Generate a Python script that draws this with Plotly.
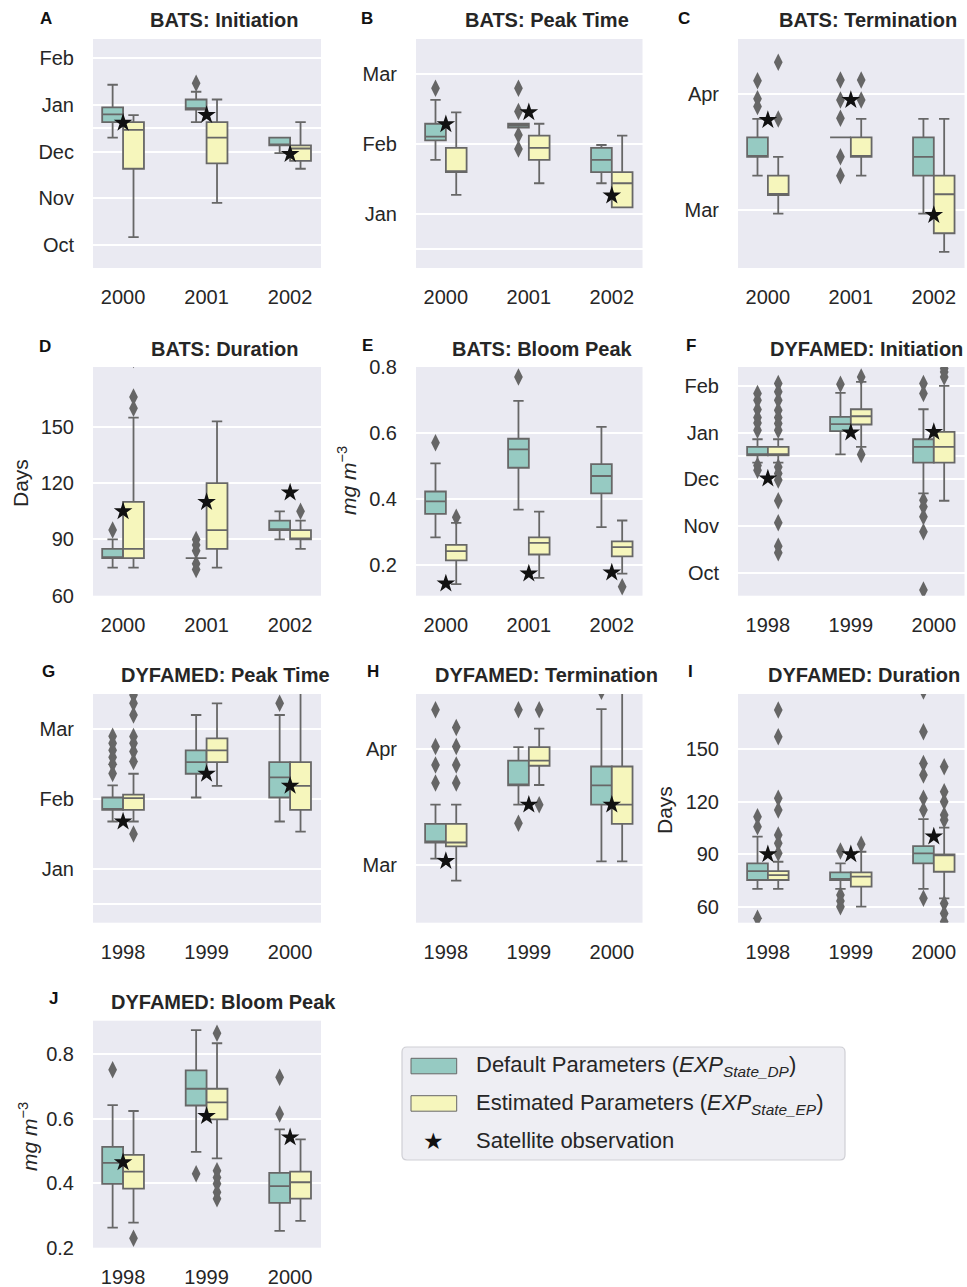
import plotly.graph_objects as go

W, H = 967, 1287

YEARS_BATS = ['2000', '2001', '2002']
YEARS_DYF = ['1998', '1999', '2000']

# Box statistics per year: [lower whisker, q1, median, q3, upper whisker]
# Date panels: days relative to 1 Jan (30-day months; Dec=-30, Feb=30, Mar=60, Apr=90)
A_DP = [[-21, -11, -6, -1.5, 13], [-11, -3, -2, 3.5, 8.5], [-31, -26, -26, -21, -21]]
A_EP = [[-85, -41, -16, -11, -6.5], [-63, -37.5, -21, -11, 3.5], [-41, -36, -28, -26, -11]]
A_DP_OUT = [[], [14], []]
A_EP_OUT = [[], [], []]
A_SAT = [-11.5, -6.5, -31.5]

B_DP = [[23.3, 31.7, 33.3, 38.8, 49.0], [37.1, 37.1, 38.0, 38.8, 38.8], [13.3, 18.1, 23.3, 28.5, 29.7]]
B_EP = [[8.3, 18.1, 18.1, 28.5, 43.7], [13.3, 23.3, 28.5, 33.7, 38.8], [3.0, 3.0, 13.3, 18.1, 33.7]]
B_DP_OUT = [[54], [54, 44, 34, 28], []]
B_EP_OUT = [[], [], []]
B_SAT = [38.6, 43.7, 8.0]

C_DP = [[68.9, 73.8, 73.8, 78.8, 83.6], [78.8, 78.8, 78.8, 78.8, 78.8], [59.1, 68.9, 73.8, 78.8, 83.6]]
C_EP = [[59.1, 63.9, 63.9, 68.9, 73.8], [68.9, 73.8, 73.8, 78.8, 83.6], [49.2, 54.0, 64.1, 68.9, 83.6]]
C_DP_OUT = [[93.5, 88.8, 86.8], [93.7, 88.5, 83.8, 73.8, 68.9], []]
C_EP_OUT = [[98.3, 83.6], [93.7, 88.5], []]
C_SAT = [83.3, 88.5, 58.7]

D_DP = [[75, 80, 80, 85, 90], [80, 80, 80, 80, 80], [90, 95, 95, 100, 105]]
D_EP = [[75, 80, 85, 110, 155], [75, 85, 95, 120, 153], [85, 90, 90, 95, 100]]
D_DP_OUT = [[95], [90, 87, 84, 77, 74], []]
D_EP_OUT = [[186, 166, 160], [], [105]]
D_SAT = [105, 110, 115]

E_DP = [[0.284, 0.355, 0.393, 0.423, 0.508], [0.368, 0.495, 0.551, 0.583, 0.698], [0.315, 0.417, 0.470, 0.506, 0.619]]
E_EP = [[0.142, 0.214, 0.242, 0.261, 0.328], [0.161, 0.232, 0.267, 0.284, 0.362], [0.174, 0.226, 0.254, 0.272, 0.335]]
E_DP_OUT = [[0.571], [0.770], []]
E_EP_OUT = [[0.345], [], [0.134]]
E_SAT = [0.144, 0.174, 0.177]

F_DP = [[-19.1, -14.4, -14.4, -9.0, -4.1], [-13.9, 1.1, 5.6, 10.3, 25.7], [-39.0, -19.1, -9.0, -4.1, 15.2]]
F_EP = [[-19.1, -14.4, -14.4, -9.0, -4.1], [-9.0, 5.4, 10.7, 15.2, 32.8], [-43.7, -19.1, -9.0, 0.6, 30.2]]
F_DP_OUT = [[25.3, 21.0, 15.0, 9.9, 6.4, 1.7, -21, -24.0], [31.3], [31.7, 25.3, -43.3, -47.6, -54.0, -63.6, -101.1]]
F_EP_OUT = [[31.7, 26.4, 21.0, 14.6, 9.9, 6.0, 1.7, -21.9, -26.1, -30.4, -43.7, -57.9, -72.9, -77.1], [36.0, -13.9], [41.4, 39.2, 36.0]]
F_SAT = [-29.4, 0.2, 0.6]

G_DP = [[20.4, 25.4, 25.4, 30.7, 35.9], [30.7, 40.9, 45.9, 50.9, 66.1], [20.4, 30.7, 39.3, 45.9, 66.1]]
G_EP = [[20.4, 25.4, 30.4, 31.9, 40.9], [35.7, 45.9, 50.9, 56.1, 71.1], [16.1, 25.4, 35.7, 45.9, 80]]
G_DP_OUT = [[57, 54, 51, 48, 45, 41], [], [71.1]]
G_EP_OUT = [[74.7, 71.1, 66.1, 56.9, 54.0, 50.4, 46.1, 15.0], [], []]
G_SAT = [20.4, 40.9, 35.7]

H_DP = [[61.6, 65.8, 65.8, 70.6, 75.6], [75.6, 80.6, 80.6, 87.0, 90.5], [60.9, 75.6, 80.6, 85.5, 100.4]]
H_EP = [[55.9, 64.8, 65.8, 70.6, 75.6], [80.7, 85.7, 87.0, 90.5, 95.3], [60.9, 70.6, 75.6, 85.5, 110]]
H_DP_OUT = [[100.2, 90.7, 85.9, 81.2], [100.2, 70.8], [105]]
H_EP_OUT = [[95.6, 90.7, 85.9, 81.2], [100.2, 75.6], []]
H_SAT = [61.0, 75.6, 75.6]

I_DP = [[70.3, 75.4, 80.5, 84.9, 100.1], [70.3, 75.4, 75.4, 79.8, 84.9], [70.3, 84.9, 90.6, 94.7, 110.1]]
I_EP = [[70.3, 75.4, 78.2, 80.5, 85.8], [60.2, 71.6, 77.3, 79.8, 91.5], [64.9, 80.1, 90, 90, 105.2]]
I_DP_OUT = [[111.4, 105.7, 53.6], [91.9, 66.9, 63.5, 60.2], [183, 159.8, 141.8, 135.2, 121.9, 115.2, 65]]
I_EP_OUT = [[172.2, 157, 121.9, 115.2, 101, 96.3, 90.6], [95.7], [139.9, 125.7, 120, 112.4, 109.5, 62.1, 56.4, 51.7]]
I_SAT = [90, 90, 100.1]

J_DP = [[0.262, 0.398, 0.463, 0.513, 0.642], [0.497, 0.641, 0.693, 0.750, 0.875], [0.252, 0.339, 0.391, 0.432, 0.567]]
J_EP = [[0.278, 0.383, 0.436, 0.488, 0.624], [0.477, 0.598, 0.651, 0.693, 0.834], [0.283, 0.352, 0.403, 0.436, 0.536]]
J_DP_OUT = [[0.752], [0.429], [0.729, 0.615]]
J_EP_OUT = [[0.229], [0.865, 0.439, 0.418, 0.398, 0.372, 0.352], []]
J_SAT = [0.465, 0.608, 0.542]

TITLES = ['BATS: Initiation', 'BATS: Peak Time', 'BATS: Termination', 'BATS: Duration', 'BATS: Bloom Peak',
          'DYFAMED: Initiation', 'DYFAMED: Peak Time', 'DYFAMED: Termination', 'DYFAMED: Duration',
          'DYFAMED: Bloom Peak']
LETTERS = ['A', 'B', 'C', 'D', 'E', 'F', 'G', 'H', 'I', 'J']

# (labelled tick values, labels, extra unlabelled grid values)
INIT_TICKS = ([-90, -60, -30, 0, 30], ['Oct', 'Nov', 'Dec', 'Jan', 'Feb'], [-15])
PEAK_TICKS = ([0, 30, 60], ['Jan', 'Feb', 'Mar'], [-15])
TERM_TICKS = ([60, 90], ['Mar', 'Apr'], [])
DUR_TICKS = ([60, 90, 120, 150], ['60', '90', '120', '150'], [])
CHL_TICKS = ([0.2, 0.4, 0.6, 0.8], ['0.2', '0.4', '0.6', '0.8'], [])

LEGEND_LABELS = ['Default Parameters (<i>EXP<sub>State_DP</sub></i>)',
                 'Estimated Parameters (<i>EXP<sub>State_EP</sub></i>)',
                 'Satellite observation']

# ---- styling ----
FONT = 'Liberation Sans, Arial, sans-serif'
TXT = '#262626'
DP_COLOR = '#96cac2'
EP_COLOR = '#f6f6bc'
EDGE = '#676767'
BG = '#eaeaf2'

cols_x = [(93, 321), (416, 642.5), (738, 964.5)]
rows_y = [(39, 268), (367, 595.7), (694, 922.7), (1020.7, 1247.7)]

panels = [
    (A_DP, A_EP, A_DP_OUT, A_EP_OUT, A_SAT, YEARS_BATS, INIT_TICKS, [-104.8, 42.4]),
    (B_DP, B_EP, B_DP_OUT, B_EP_OUT, B_SAT, YEARS_BATS, PEAK_TICKS, [-23.0, 75.1]),
    (C_DP, C_EP, C_DP_OUT, C_EP_OUT, C_SAT, YEARS_BATS, TERM_TICKS, [45.0, 104.3]),
    (D_DP, D_EP, D_DP_OUT, D_EP_OUT, D_SAT, YEARS_BATS, DUR_TICKS, [60, 182]),
    (E_DP, E_EP, E_DP_OUT, E_EP_OUT, E_SAT, YEARS_BATS, CHL_TICKS, [0.107, 0.8005]),
    (F_DP, F_EP, F_DP_OUT, F_EP_OUT, F_SAT, YEARS_DYF, INIT_TICKS, [-104.8, 42.4]),
    (G_DP, G_EP, G_DP_OUT, G_EP_OUT, G_SAT, YEARS_DYF, PEAK_TICKS, [-23.0, 75.1]),
    (H_DP, H_EP, H_DP_OUT, H_EP_OUT, H_SAT, YEARS_DYF, TERM_TICKS, [45.0, 104.3]),
    (I_DP, I_EP, I_DP_OUT, I_EP_OUT, I_SAT, YEARS_DYF, DUR_TICKS, [51.1, 181.3]),
    (J_DP, J_EP, J_DP_OUT, J_EP_OUT, J_SAT, YEARS_DYF, CHL_TICKS, [0.2, 0.904]),
]

title_pos = [(224, 20), (546.5, 20), (867.7, 20), (224, 349), (542.5, 349), (866, 349),
             (225, 675), (546, 675), (864, 675), (223, 1002)]
letter_pos = [(45.7, 18.5), (366.7, 18.5), (684, 18.5), (45, 346), (367.7, 345), (690.7, 345),
              (48.3, 671), (373.3, 671), (690.7, 671), (53.3, 998)]


def px(x):
    return x / W


def py(y):
    return 1 - y / H


fig = go.Figure()
layout = dict(width=W, height=H, margin=dict(l=0, r=0, t=0, b=0, autoexpand=False), paper_bgcolor='white',
              plot_bgcolor=BG, showlegend=False, boxmode='overlay', template='none',
              font=dict(family=FONT, color=TXT))
annotations = []
shapes = []
OFF = 0.125
BW = 0.25

for i, (dp, ep, dpo, epo, sat, years, ticks, yr) in enumerate(panels):
    k = i + 1
    xa, ya = ('x' if k == 1 else f'x{k}'), ('y' if k == 1 else f'y{k}')
    r, c = divmod(i, 3)
    x0, x1 = cols_x[c]
    y0, y1 = rows_y[r]
    layout['xaxis' if k == 1 else f'xaxis{k}'] = dict(
        domain=[px(x0), px(x1)], anchor=ya, range=[-0.36, 2.37], tickvals=[0, 1, 2], ticktext=years,
        showgrid=False, zeroline=False, showline=False, ticks='outside', ticklen=11, automargin=False,
        tickcolor='rgba(0,0,0,0)', tickfont=dict(size=20, color=TXT, family=FONT), fixedrange=True)
    yaxis = dict(
        domain=[py(y1), py(y0)], anchor=xa, range=yr, tickvals=ticks[0], ticktext=ticks[1],
        showgrid=True, gridcolor='white', gridwidth=1.6, zeroline=False, showline=False, automargin=False,
        ticks='outside', ticklen=14, tickcolor='rgba(0,0,0,0)',
        tickfont=dict(size=20, color=TXT, family=FONT), fixedrange=True)
    if ticks[2]:
        yaxis['minor'] = dict(tickvals=ticks[2], showgrid=True, gridcolor='white', gridwidth=1.6, ticks='')
    layout['yaxis' if k == 1 else f'yaxis{k}'] = yaxis

    for stats, color, name, sign in ((dp, DP_COLOR, 'DP', -1), (ep, EP_COLOR, 'EP', 1)):
        lo, q1, med, q3, hi = (list(v) for v in zip(*stats))
        fig.add_trace(go.Box(
            x=[j + sign * OFF for j in range(3)], lowerfence=lo, q1=q1, median=med, q3=q3, upperfence=hi,
            width=BW, whiskerwidth=0.5, fillcolor=color, line=dict(color=EDGE, width=1.8),
            boxpoints=False, name=name, showlegend=False, xaxis=xa, yaxis=ya, hoverinfo='skip'))
    for outs, sign in ((dpo, -1), (epo, 1)):
        xs, ys = [], []
        for j, vals in enumerate(outs):
            for v in vals:
                xs.append(j + sign * OFF)
                ys.append(v)
        if xs:
            fig.add_trace(go.Scatter(x=xs, y=ys, mode='markers', showlegend=False, xaxis=xa, yaxis=ya,
                                     marker=dict(symbol='diamond-tall', size=12.5, color='#666666',
                                                 line=dict(width=0)), hoverinfo='skip'))
    fig.add_trace(go.Scatter(x=[0, 1, 2], y=sat, mode='markers', name='Satellite observation',
                             showlegend=False, xaxis=xa, yaxis=ya,
                             marker=dict(symbol='star', size=14, color='#111111', line=dict(width=0)),
                             hoverinfo='skip'))

    tx, ty = title_pos[i]
    annotations.append(dict(text=f'<b>{TITLES[i]}</b>', x=px(tx), y=py(ty), xref='paper', yref='paper',
                            xanchor='center', yanchor='middle', showarrow=False,
                            font=dict(size=20, color=TXT, family=FONT)))
    lx, ly = letter_pos[i]
    annotations.append(dict(text=f'<b>{LETTERS[i]}</b>', x=px(lx), y=py(ly), xref='paper', yref='paper',
                            xanchor='center', yanchor='middle', showarrow=False,
                            font=dict(size=17, color='#111111', family=FONT)))

for text, x, y in (('Days', 20, 483), ('<i>mg m</i><sup>−3</sup>', 347, 481), ('Days', 664, 810),
                   ('<i>mg m</i><sup>−3</sup>', 28, 1137)):
    annotations.append(dict(text=text, x=px(x), y=py(y), xref='paper', yref='paper', textangle=-90,
                            xanchor='center', yanchor='middle', showarrow=False,
                            font=dict(size=21, color=TXT, family=FONT)))

# ---- legend (drawn as a framed box with swatches and labels) ----
lx0, lx1, ly0, ly1, rad = 402, 845, 1047, 1160, 5
path = (f'M {px(lx0 + rad)} {py(ly0)} L {px(lx1 - rad)} {py(ly0)} Q {px(lx1)} {py(ly0)} {px(lx1)} {py(ly0 + rad)} '
        f'L {px(lx1)} {py(ly1 - rad)} Q {px(lx1)} {py(ly1)} {px(lx1 - rad)} {py(ly1)} '
        f'L {px(lx0 + rad)} {py(ly1)} Q {px(lx0)} {py(ly1)} {px(lx0)} {py(ly1 - rad)} '
        f'L {px(lx0)} {py(ly0 + rad)} Q {px(lx0)} {py(ly0)} {px(lx0 + rad)} {py(ly0)} Z')
shapes.append(dict(type='path', path=path, xref='paper', yref='paper', fillcolor='#eeeef3',
                   line=dict(color='#cfcfd5', width=1.2), layer='above'))
for (ya0, ya1), col in (((1058.3, 1073.8), DP_COLOR), ((1095.7, 1111.2), EP_COLOR)):
    shapes.append(dict(type='rect', xref='paper', yref='paper', x0=px(411), x1=px(456.7), y0=py(ya1),
                       y1=py(ya0), fillcolor=col, line=dict(color=EDGE, width=1), layer='above'))
annotations.append(dict(text='★', x=px(433.5), y=py(1141), xref='paper', yref='paper', xanchor='center',
                        yanchor='middle', showarrow=False, font=dict(size=23, color='#111111',
                                                                     family='DejaVu Sans')))
for lab, yc in zip(LEGEND_LABELS, (1066, 1104, 1140)):
    annotations.append(dict(text=lab, x=px(474), y=py(yc), xref='paper', yref='paper', xanchor='left',
                            yanchor='middle', showarrow=False, font=dict(size=22, color=TXT, family=FONT)))

layout['annotations'] = annotations
layout['shapes'] = shapes
fig.update_layout(**layout)
fig.write_html('out.html', config={'displayModeBar': False},
               post_script="document.body.style.margin='0';document.body.style.overflow='hidden';")
